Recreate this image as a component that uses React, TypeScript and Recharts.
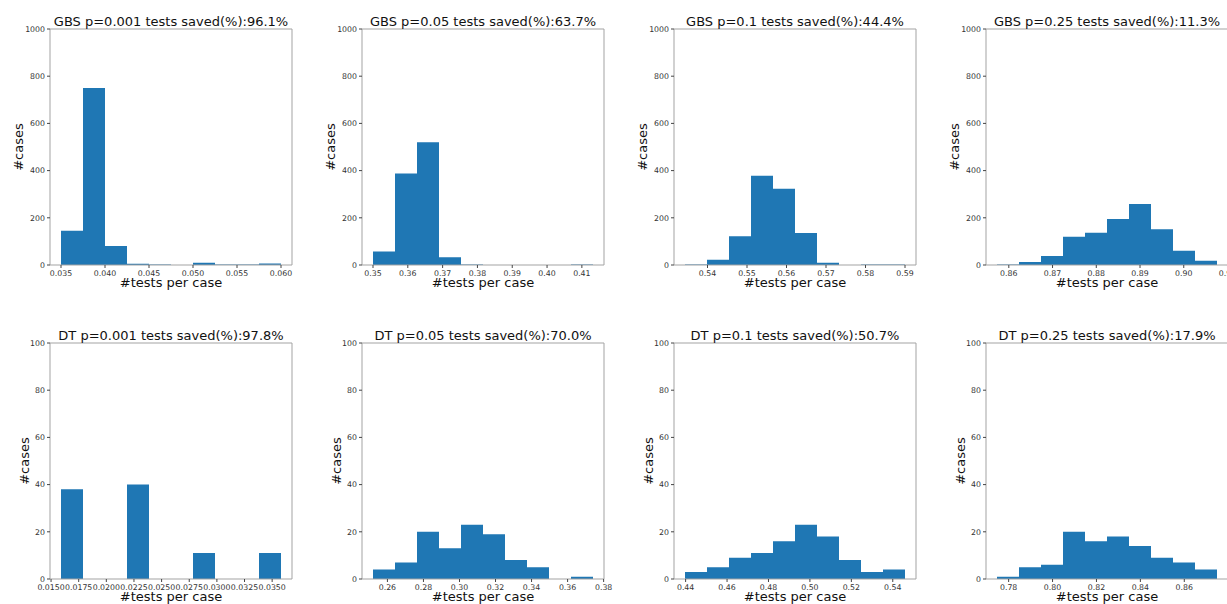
import React from 'react';
import { AreaChart, Area, XAxis, YAxis, ReferenceArea } from 'recharts';

// ── data ─────────────────────────────────────────────────
// every panel is a 10-bin histogram: [first edge, last edge] + counts

const gbs001Range = [0.035, 0.06];
const gbs001Counts = [145, 750, 80, 5, 2, 0, 10, 2, 2, 6];
const gbs001Ticks = [0.035, 0.04, 0.045, 0.05, 0.055, 0.06];

const gbs005Range = [0.35, 0.4132];
const gbs005Counts = [57, 388, 520, 33, 2, 0, 0, 0, 0, 2];
const gbs005Ticks = [0.35, 0.36, 0.37, 0.38, 0.39, 0.4, 0.41];

const gbs01Range = [0.5343, 0.59];
const gbs01Counts = [2, 22, 122, 378, 323, 136, 10, 0, 2, 2];
const gbs01Ticks = [0.54, 0.55, 0.56, 0.57, 0.58, 0.59];

const gbs025Range = [0.8573, 0.9076];
const gbs025Counts = [2, 13, 38, 120, 137, 195, 258, 152, 60, 18];
const gbs025Ticks = [0.86, 0.87, 0.88, 0.89, 0.9, 0.91];

const dt001Range = [0.0159, 0.0358];
const dt001Counts = [38, 0, 0, 40, 0, 0, 11, 0, 0, 11];
const dt001Ticks = [0.015, 0.0175, 0.02, 0.0225, 0.025, 0.0275, 0.03, 0.0325, 0.035];

const dt005Range = [0.252, 0.3741];
const dt005Counts = [4, 7, 20, 13, 23, 19, 8, 5, 0, 1];
const dt005Ticks = [0.26, 0.28, 0.3, 0.32, 0.34, 0.36, 0.38];

const dt01Range = [0.4397, 0.5459];
const dt01Counts = [3, 5, 9, 11, 16, 23, 18, 8, 3, 4];
const dt01Ticks = [0.44, 0.46, 0.48, 0.5, 0.52, 0.54];

const dt025Range = [0.7747, 0.8749];
const dt025Counts = [1, 5, 6, 20, 16, 18, 14, 9, 7, 4];
const dt025Ticks = [0.78, 0.8, 0.82, 0.84, 0.86];

const gbsYTicks = [0, 200, 400, 600, 800, 1000];
const dtYTicks = [0, 20, 40, 60, 80, 100];

const gbsTitles = [
  'GBS p=0.001 tests saved(%):96.1%',
  'GBS p=0.05 tests saved(%):63.7%',
  'GBS p=0.1 tests saved(%):44.4%',
  'GBS p=0.25 tests saved(%):11.3%',
];
const dtTitles = [
  'DT p=0.001 tests saved(%):97.8%',
  'DT p=0.05 tests saved(%):70.0%',
  'DT p=0.1 tests saved(%):50.7%',
  'DT p=0.25 tests saved(%):17.9%',
];

// ── layout ───────────────────────────────────────────────

const BLUE = '#1f77b4';
const SPINE = '#a3a3a3';
const FONT = '"DejaVu Sans", sans-serif';
const COL_X = [50, 362, 674, 986]; // left edge of each plot box
const ROW_Y = [29, 343];           // top edge of each plot box
const PLOT_W = 242;
const PLOT_H = 236;
const Y_AXIS_W = 50;
const X_AXIS_H = 35;

interface Panel {
  title: string;
  range: number[];
  counts: number[];
  ticks: number[];
  digits: number;
  yTicks: number[];
  col: number;
  row: number;
}

const panels: Panel[] = [
  { title: gbsTitles[0], range: gbs001Range, counts: gbs001Counts, ticks: gbs001Ticks, digits: 3, yTicks: gbsYTicks, col: 0, row: 0 },
  { title: gbsTitles[1], range: gbs005Range, counts: gbs005Counts, ticks: gbs005Ticks, digits: 2, yTicks: gbsYTicks, col: 1, row: 0 },
  { title: gbsTitles[2], range: gbs01Range, counts: gbs01Counts, ticks: gbs01Ticks, digits: 2, yTicks: gbsYTicks, col: 2, row: 0 },
  { title: gbsTitles[3], range: gbs025Range, counts: gbs025Counts, ticks: gbs025Ticks, digits: 2, yTicks: gbsYTicks, col: 3, row: 0 },
  { title: dtTitles[0], range: dt001Range, counts: dt001Counts, ticks: dt001Ticks, digits: 4, yTicks: dtYTicks, col: 0, row: 1 },
  { title: dtTitles[1], range: dt005Range, counts: dt005Counts, ticks: dt005Ticks, digits: 2, yTicks: dtYTicks, col: 1, row: 1 },
  { title: dtTitles[2], range: dt01Range, counts: dt01Counts, ticks: dt01Ticks, digits: 2, yTicks: dtYTicks, col: 2, row: 1 },
  { title: dtTitles[3], range: dt025Range, counts: dt025Counts, ticks: dt025Ticks, digits: 2, yTicks: dtYTicks, col: 3, row: 1 },
];

// bin edges -> step points (last point closes the final bin)
const toSteps = (range: number[], counts: number[]) => {
  const w = (range[1] - range[0]) / counts.length;
  const pts = counts.map((c, i) => ({ x: range[0] + i * w, y: c }));
  pts.push({ x: range[1], y: 0 });
  return pts;
};

const tickStyle = { fontSize: 7.8, fill: '#333', fontFamily: FONT };

const Histogram: React.FC<{ p: Panel }> = ({ p }) => {
  const span = p.range[1] - p.range[0];
  const dom = [p.range[0] - 0.05 * span, p.range[1] + 0.05 * span];
  const yMax = p.yTicks[p.yTicks.length - 1];
  const left = COL_X[p.col] - Y_AXIS_W;
  const top = ROW_Y[p.row] - 29;

  return (
    <div style={{ position: 'absolute', left, top }}>
      <AreaChart
        width={Y_AXIS_W + PLOT_W + 20}
        height={29 + PLOT_H + X_AXIS_H}
        data={toSteps(p.range, p.counts)}
        margin={{ top: 29, right: 20, bottom: 0, left: 0 }}
      >
        <XAxis
          type="number"
          dataKey="x"
          domain={dom}
          allowDataOverflow
          ticks={p.ticks}
          interval={0}
          tickFormatter={(v: number) => v.toFixed(p.digits)}
          tick={tickStyle}
          tickSize={3}
          tickMargin={2.5}
          tickLine={{ stroke: '#444' }}
          axisLine={false}
          height={X_AXIS_H}
        />
        <YAxis
          type="number"
          domain={[0, yMax]}
          ticks={p.yTicks}
          interval={0}
          tick={tickStyle}
          tickSize={3}
          tickMargin={2}
          tickLine={{ stroke: '#444' }}
          axisLine={false}
          width={Y_AXIS_W}
        />
        <Area
          type="stepAfter"
          dataKey="y"
          stroke="none"
          fill={BLUE}
          fillOpacity={1}
          dot={false}
          activeDot={false}
          isAnimationActive={false}
        />
        {/* axes box */}
        <ReferenceArea
          x1={dom[0]}
          x2={dom[1]}
          y1={0}
          y2={yMax}
          fill="none"
          fillOpacity={0}
          stroke={SPINE}
          strokeWidth={1}
        />
      </AreaChart>
    </div>
  );
};

// titles and axis labels, placed like matplotlib does
const Labels: React.FC = () => (
  <svg width={1227} height={604} style={{ position: 'absolute', left: 0, top: 0, pointerEvents: 'none' }}>
    {panels.map((p, i) => {
      const cx = COL_X[p.col] + PLOT_W / 2;
      const top = ROW_Y[p.row];
      const cy = top + PLOT_H / 2;
      const yl = COL_X[p.col] - (p.row === 0 ? 27 : 21.5);
      return (
        <g key={i} fontFamily={FONT} fill="#111">
          <text x={cx} y={top - 3} fontSize={13} textAnchor="middle">{p.title}</text>
          <text x={cx} y={top + PLOT_H + 22} fontSize={13} textAnchor="middle">#tests per case</text>
          <text x={yl} y={cy} fontSize={13} textAnchor="middle" transform={`rotate(-90, ${yl}, ${cy})`}>#cases</text>
        </g>
      );
    })}
  </svg>
);

export default function App() {
  return (
    <div style={{ position: 'absolute', left: 0, top: 0, width: 1227, height: 604, overflow: 'hidden', background: '#fff' }}>
      {panels.map((p, i) => (
        <Histogram key={i} p={p} />
      ))}
      <Labels />
    </div>
  );
}
